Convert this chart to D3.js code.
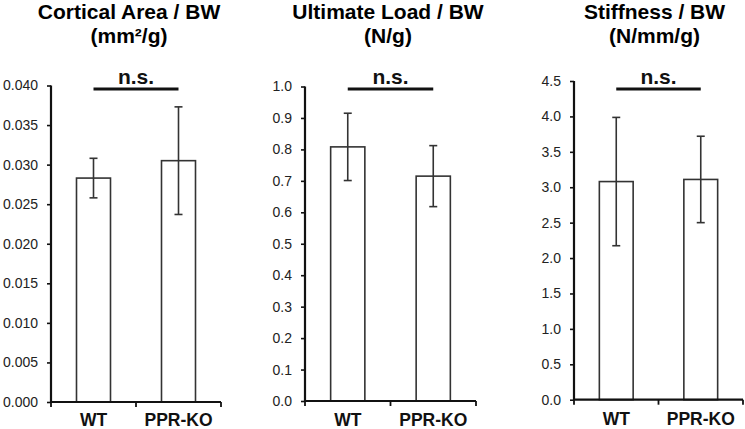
<!DOCTYPE html>
<html>
<head>
<meta charset="utf-8">
<script src="https://cdn.jsdelivr.net/npm/d3@7"></script>
<style>
  html, body { margin: 0; padding: 0; background: #fff; }
  svg { display: block; font-family: "Liberation Sans", Arial, sans-serif; }
</style>
</head>
<body>
<svg id="chart" width="745" height="429"></svg>
<script>
// ---- data ----
const categories = ["WT", "PPR-KO"];
const titlesLine1 = ["Cortical Area / BW", "Ultimate Load / BW", "Stiffness / BW"];
const titlesLine2 = ["(mm\u00B2/g)", "(N/g)", "(N/mm/g)"];
const corticalMeans = [0.0283, 0.0305];
const corticalErrors = [0.0025, 0.0068];
const loadMeans = [0.808, 0.715];
const loadErrors = [0.107, 0.097];
const stiffMeans = [3.08, 3.11];
const stiffErrors = [0.906, 0.61];
const corticalTicks = [0, 0.005, 0.010, 0.015, 0.020, 0.025, 0.030, 0.035, 0.040];
const loadTicks = [0, 0.1, 0.2, 0.3, 0.4, 0.5, 0.6, 0.7, 0.8, 0.9, 1.0];
const stiffTicks = [0, 0.5, 1.0, 1.5, 2.0, 2.5, 3.0, 3.5, 4.0, 4.5];
const sigLabel = "n.s.";

// ---- layout ----
const panels = [
  { means: corticalMeans, errs: corticalErrors, ticks: corticalTicks, fmt: d3.format(".3f"),
    x0: 51, x1: 221, y0: 402, yTop: 85.5, titleX: 129 },
  { means: loadMeans, errs: loadErrors, ticks: loadTicks, fmt: d3.format(".1f"),
    x0: 305, x1: 476, y0: 401, yTop: 86.5, titleX: 388 },
  { means: stiffMeans, errs: stiffErrors, ticks: stiffTicks, fmt: d3.format(".1f"),
    x0: 574, x1: 743, y0: 399.7, yTop: 81, titleX: 654.5 }
];

const svg = d3.select("#chart");

panels.forEach((p, i) => {
  const g = svg.append("g");
  const x = d3.scaleBand().domain(categories).range([p.x0, p.x1]).padding(0);
  const y = d3.scaleLinear().domain([0, d3.max(p.ticks)]).range([p.y0, p.yTop]);

  // titles
  g.append("text").attr("x", p.titleX).attr("y", 19)
    .attr("text-anchor", "middle").attr("font-size", 21).attr("font-weight", "bold")
    .attr("fill", "#000").text(titlesLine1[i]);
  g.append("text").attr("x", p.titleX).attr("y", 42.5)
    .attr("text-anchor", "middle").attr("font-size", 21).attr("font-weight", "bold")
    .attr("fill", "#000").text(titlesLine2[i]);

  // y axis
  const yAxis = d3.axisLeft(y).tickValues(p.ticks).tickFormat(p.fmt).tickSize(4).tickPadding(9);
  const ya = g.append("g").attr("transform", `translate(${p.x0},0)`).call(yAxis);
  ya.select(".domain").attr("stroke", "#111").attr("stroke-width", 2.2)
    .attr("d", `M0,${p.y0}V${p.yTop}`);
  ya.selectAll(".tick line").attr("stroke", "#111").attr("stroke-width", 1.6);
  ya.selectAll(".tick text").attr("font-size", 14).attr("fill", "#222")
    .attr("font-family", "Liberation Sans, Arial, sans-serif");

  // bars
  const bw = x.bandwidth() * 0.4;
  g.selectAll("rect.bar").data(categories).enter().append("rect")
    .attr("x", d => x(d) + x.bandwidth() / 2 - bw / 2)
    .attr("y", (d, j) => y(p.means[j]))
    .attr("width", bw)
    .attr("height", (d, j) => p.y0 - y(p.means[j]))
    .attr("fill", "#fff").attr("stroke", "#333").attr("stroke-width", 1.6);

  // error bars
  const cap = 4;
  categories.forEach((c, j) => {
    const cx = x(c) + x.bandwidth() / 2;
    const hi = y(p.means[j] + p.errs[j]);
    const lo = y(p.means[j] - p.errs[j]);
    g.append("line").attr("x1", cx).attr("x2", cx).attr("y1", hi).attr("y2", lo)
      .attr("stroke", "#333").attr("stroke-width", 1.6);
    g.append("line").attr("x1", cx - cap).attr("x2", cx + cap).attr("y1", hi).attr("y2", hi)
      .attr("stroke", "#333").attr("stroke-width", 1.6);
    g.append("line").attr("x1", cx - cap).attr("x2", cx + cap).attr("y1", lo).attr("y2", lo)
      .attr("stroke", "#333").attr("stroke-width", 1.6);
  });

  // x axis
  const xa = g.append("g").attr("transform", `translate(0,${p.y0})`);
  xa.append("line").attr("x1", p.x0 - 1).attr("x2", p.x1).attr("y1", 0).attr("y2", 0)
    .attr("stroke", "#111").attr("stroke-width", 2.2);
  const xTicks = [p.x0, p.x0 + x.bandwidth(), p.x1];
  xa.selectAll("line.xt").data(xTicks).enter().append("line")
    .attr("x1", d => d).attr("x2", d => d).attr("y1", 0).attr("y2", 5)
    .attr("stroke", "#111").attr("stroke-width", 1.8);
  xa.selectAll("text").data(categories).enter().append("text")
    .attr("x", d => x(d) + x.bandwidth() / 2)
    .attr("y", 425.5 - p.y0)
    .attr("text-anchor", "middle").attr("font-size", 17.5).attr("font-weight", "bold")
    .attr("fill", "#111").text(d => d);

  // significance
  const c1 = x(categories[0]) + x.bandwidth() / 2;
  const c2 = x(categories[1]) + x.bandwidth() / 2;
  g.append("line").attr("x1", c1).attr("x2", c2).attr("y1", 89).attr("y2", 89)
    .attr("stroke", "#111").attr("stroke-width", 3);
  g.append("text").attr("x", (c1 + c2) / 2).attr("y", 84)
    .attr("text-anchor", "middle").attr("font-size", 21).attr("font-weight", "bold")
    .attr("fill", "#111").text(sigLabel);
});
</script>
</body>
</html>
